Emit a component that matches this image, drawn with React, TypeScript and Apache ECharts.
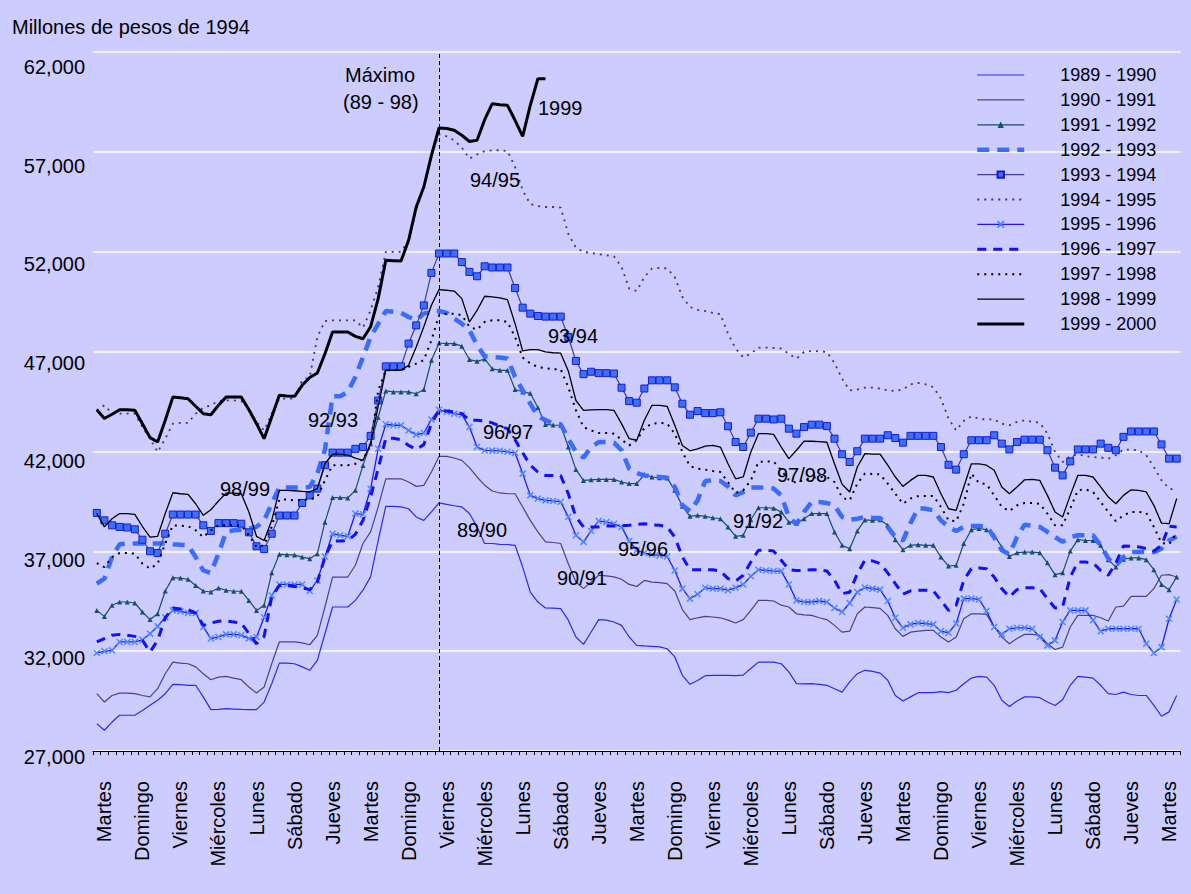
import React, { useEffect, useRef } from "react";
import * as echarts from "echarts";

const FONT = "'Liberation Sans', Arial, Helvetica, sans-serif";

const dayCycle = ["Lunes", "Martes", "Miércoles", "Jueves", "Viernes", "Sábado", "Domingo"];
const days: string[] = Array.from({ length: 143 }, (_, i) => dayCycle[i % 7]);

const yTicks = { min: 27000, max: 62000, step: 5000 };
const yTickValues = [27000, 32000, 37000, 42000, 47000, 52000, 57000, 62000];
// how far below its gridline each tick label sits in the reference (px)
const yLabelDrop = [6.3, 7.2, 9, 10, 11.7, 12.6, 14, 15];

const s8990 = [28370,28040,28450,28790,28790,28790,29030,29290,29540,29870,30340,30320,30290,30290,29710,29070,29080,29120,29100,29080,29070,29070,29450,30370,31400,31400,31370,31210,31040,31540,32870,34210,34210,34210,34540,35050,35720,37540,39250,39250,39220,39130,38720,38550,38970,39420,39350,39280,39220,38890,38220,37390,37390,37350,37340,37300,36210,34960,34460,34160,34150,34130,33550,32710,32340,32960,33580,33550,33460,33290,32710,32290,32260,32240,32210,32120,31710,30790,30340,30530,30770,30790,30790,30790,30770,30800,31130,31450,31450,31450,31370,30960,30370,30360,30370,30340,30290,30120,29950,30460,30870,31040,30990,30900,30540,29780,29500,29710,29920,29920,29920,29970,29920,30040,30370,30650,30740,30700,30290,29540,29230,29500,29710,29710,29670,29450,29280,29570,30290,30740,30700,30650,30290,29870,29830,29950,29830,29780,29780,29280,28740,28960,29780];
const s9091 = [29870,29450,29780,29900,29900,29870,29780,29710,30120,30870,31450,31400,31370,31210,30870,30570,30700,30740,30650,30570,30200,29900,30200,31370,32460,32460,32460,32410,32320,32790,34210,35710,35710,35710,36300,37390,37970,39220,40630,40630,40630,40470,40250,40300,40970,41750,41750,41670,41550,41190,40720,40310,40020,39920,39880,39880,39220,38550,37970,37470,37440,37390,36380,35460,35130,35460,35800,35770,35720,35600,35340,35240,35540,35460,35430,35380,35010,34080,33580,33670,33740,33710,33670,33550,33410,33580,34040,34540,34540,34510,34300,34210,33870,33820,33790,33670,33580,33290,32950,33000,33870,34210,34180,34140,33790,33120,32740,32950,33000,33040,33040,32710,32460,32710,33620,33870,33870,33840,33210,32710,32370,32630,32840,32840,32790,32370,32080,32200,33210,33790,33790,33790,33670,33510,34210,34250,34740,34740,34740,35130,35800,35830,35710];
const s9192 = [34040,33740,34300,34460,34460,34410,33960,33580,33870,35010,35680,35660,35600,35290,35010,34960,35160,35050,35000,35000,34540,34040,34300,35920,36850,36830,36810,36710,36630,36880,38460,39690,39690,39670,40050,41300,42380,43710,45030,44980,44980,44980,44890,45100,46560,47430,47400,47400,47270,46600,46510,46630,46140,46060,46060,45100,44990,44910,44200,43350,43320,43310,42220,41090,40550,40580,40600,40600,40600,40470,40390,40390,40840,40720,40680,40670,40050,39250,38750,38800,38750,38680,38630,38220,37750,37800,38580,39180,39180,39160,38970,38460,38410,38630,38890,38890,38890,37970,37300,37130,38020,38570,38550,38580,38300,37580,37080,37300,37330,37300,37300,36710,36260,36300,37390,38080,38140,38080,37800,37220,36740,36930,36960,36960,36930,36420,35830,35920,37010,37580,37540,37540,37300,36580,36210,36600,36670,36670,36580,36080,35340,35080,35710];
const s9293 = [35380,35630,36710,37350,37390,37390,37390,37390,37390,37390,37350,37330,37300,36710,36040,35920,36880,37970,38050,38080,38140,38220,38550,39380,40190,40190,40190,40190,40220,40890,42090,44760,44760,44980,45730,46720,47730,48390,49030,48990,48940,48730,48570,48900,48990,49030,48940,48650,48400,48070,47320,46760,46730,46700,46650,45730,45060,44390,43760,43570,43390,43360,42640,41970,41690,42220,42470,42470,42440,42060,41140,40920,40800,40750,40720,40680,40220,39300,39010,39550,40520,40550,40520,40250,39800,39970,40190,40190,40190,40140,39800,38720,38350,38970,39470,39470,39420,39300,38720,38580,38630,38720,38680,38670,38220,37710,37540,38410,39160,39130,39050,38550,38220,38020,38220,38260,38260,38250,37710,37050,36850,37710,38330,38280,38220,37970,37710,37470,37710,37800,37800,37800,37300,36640,36300,36710,36960,36960,36960,36960,37130,37540,37740];
const s9394 = [38920,38550,38300,38220,38190,38100,37580,37000,36910,37880,38840,38840,38840,38840,38300,38020,38410,38410,38410,38380,37950,37250,37110,37880,38790,38790,38790,39420,39800,40140,41310,41940,41940,41940,42130,42220,42780,44550,46260,46260,46260,47400,48310,49310,50940,51910,51910,51910,51480,50990,50770,51270,51210,51210,51210,50180,49200,48900,48780,48750,48750,48750,47730,46530,45870,45990,45920,45920,45900,45190,44520,44440,45150,45560,45560,45560,45210,44390,43840,44020,43920,43920,43960,43260,42470,42220,42940,43640,43640,43600,43640,43140,42890,43220,43340,43340,43270,42640,41860,41470,42010,42640,42640,42640,42810,42670,42440,42780,42780,42780,42780,42220,41330,41090,41860,42560,42560,42560,42810,42390,42100,42470,42590,42590,42590,42060,41190,40800,41500,42100,42100,42100,42390,42180,42060,42730,43000,43000,43000,43000,42350,41640,41640];
const s9495 = [44060,44310,43890,43890,43890,43890,43220,42640,41970,42640,43390,43430,43430,43890,44190,44310,44520,44560,44560,44520,44140,43480,43050,43890,44640,44640,44640,45560,45730,47730,48530,48560,48560,48560,48560,48200,49060,50240,51990,51990,51990,52570,54070,55240,56820,57880,57780,57570,57210,56660,56870,57040,57080,57080,57040,56240,55080,54380,54280,54240,54240,54210,52900,52200,51990,51940,51870,51820,51770,51240,50150,50030,50730,51160,51190,51160,50730,49740,49230,49090,49030,48940,48870,47900,47150,46720,46890,47200,47200,47180,47150,46890,46650,46980,47030,47010,46980,46430,45640,45060,45100,45190,45190,45150,45060,45030,45100,45360,45430,45360,45220,44640,43640,43050,43530,43760,43640,43600,43600,43390,43310,43480,43560,43480,43440,42890,41980,41470,41760,41860,41760,41720,41690,41640,41810,42090,42090,42060,41810,41220,40550,40140,40050];
const s9596 = [31910,31990,32040,32460,32460,32460,32570,32870,33240,33700,34040,33990,33910,33910,33210,32630,32710,32840,32840,32800,32630,32710,33700,34790,35340,35340,35340,35340,35010,35540,36740,37880,37800,37750,38890,38850,40130,42130,43360,43310,43310,43050,42840,42920,43600,44090,43970,43890,43840,43220,42220,42050,42040,42030,41980,41920,40890,39800,39640,39550,39520,39470,38720,37800,37470,38020,38520,38460,38380,38220,37510,37050,36910,36840,36790,36740,36040,35130,34630,34850,35170,35130,35130,35050,35170,35340,35750,36080,36040,36010,36010,35340,34540,34460,34460,34510,34460,34160,33960,34410,34960,35190,35130,35080,34510,33670,33170,33340,33410,33380,33340,33000,32920,33380,34630,34630,34590,34010,33210,32840,33120,33170,33170,33120,32710,32290,32540,33460,34040,34040,34040,33550,33000,33120,33120,33120,33120,33120,32370,31910,32200,33620,34590];
const s9697 = [32460,32630,32800,32840,32800,32740,32540,31960,32540,33670,34160,34110,34080,33910,33290,33410,33500,33510,33460,33410,32870,32370,32740,34710,35290,35290,35240,35170,35080,35460,36710,37510,37510,37540,37850,38550,39720,41140,42660,42660,42580,42300,42100,42340,43390,44060,44030,43980,43890,43560,43560,43530,43430,43260,43140,42590,41930,41310,40970,40800,40800,40790,39880,38720,38220,38220,38220,38260,38260,38280,38300,38350,38380,38330,38300,38220,37710,36710,36080,36080,36080,36080,36010,35630,35510,35800,36460,37050,37050,37010,36550,36080,36040,36040,36080,36080,36010,35550,34880,34950,35880,36550,36520,36380,35920,35380,34850,35020,35050,35050,35020,34540,34040,34300,35550,36130,36160,36130,35710,35130,34710,35080,35170,35170,35130,34630,34160,34210,35710,36460,36460,36410,36040,35800,36410,37270,37250,37220,37130,37010,37300,38260,38220];
const s9798 = [36410,36210,36710,36910,36910,36880,36380,36130,36380,37390,38300,38280,38260,38050,37710,38050,38300,38300,38300,38280,37800,37220,37300,38220,39590,39590,39550,39550,39590,39720,40550,41310,41310,41310,41380,41590,42300,45050,46060,46060,46090,46230,46400,46570,47560,48820,48900,48900,48820,48240,48100,48480,48570,48570,48480,47730,46700,46400,46230,46160,46120,46110,45220,44060,43220,43050,42920,42920,42890,42590,42300,42560,43170,43390,43430,43390,42890,41970,41260,41140,41090,41020,40970,40470,39920,40050,40550,41470,41500,41490,41060,40580,40420,40580,40680,40720,40720,40470,39690,39550,40390,40890,40870,40850,40390,39880,39380,39640,39760,39770,39770,39220,38550,38500,39380,40890,40420,40360,39800,39220,39010,39300,39420,39420,39380,38890,38300,38300,39130,40050,40100,39970,39470,38970,38510,38800,38970,38970,38920,38220,37420,37350,37920];
const s9899 = [38890,38220,38630,38890,38890,38850,38240,37710,37750,38890,39930,39880,39850,39380,38800,39080,39520,39910,39910,39880,38970,37750,37540,38550,40050,40050,40030,40000,39980,40140,41390,41860,41860,41810,41670,41550,42380,44260,46060,46060,46060,46310,47230,48240,49320,50100,50070,50030,49650,48480,49060,49770,49740,49690,49600,48400,47030,47100,47100,46980,46940,46920,46030,44550,44060,44080,44090,44090,44060,43390,42640,42560,43560,44310,44310,44260,43310,42300,42030,42130,42270,42300,42220,41380,40630,40720,41970,42890,42890,42850,42220,41640,42060,42510,42510,42490,42460,41380,40360,39970,41220,41890,41870,41860,41310,40720,40250,40550,40800,40800,40720,39880,39130,39050,40220,41380,41380,41310,41060,40220,39880,40220,40580,40600,40550,39800,38970,38720,39800,40800,40800,40720,40220,39720,39380,39800,40080,40050,39970,39300,38410,38380,39640];
const s9900 = [44090,43650,43860,44090,44090,44060,43390,42690,42470,43560,44720,44690,44640,44260,43890,43840,44310,44720,44720,44720,44090,43390,42640,43720,44810,44780,44760,45310,45700,45930,46890,47980,47980,47980,47760,47640,48240,49650,51570,51550,51530,52570,54240,55240,56820,58200,58170,58080,57830,57520,57580,58610,59410,59360,59330,58580,57780,59330,60660,60660];

const seriesNames = ["1989 - 1990","1990 - 1991","1991 - 1992","1992 - 1993","1993 - 1994","1994 - 1995","1995 - 1996","1996 - 1997","1997 - 1998","1998 - 1999","1999 - 2000"];
const seriesData = [s8990, s9091, s9192, s9293, s9394, s9495, s9596, s9697, s9798, s9899, s9900];

const peakIndex = 45;

const notes: [string, number, number][] = [
  ["Máximo", 345, 75],
  ["(89 - 98)", 343, 102],
  ["1999", 538, 108],
  ["94/95", 470, 180],
  ["93/94", 548, 336],
  ["92/93", 308, 420],
  ["96/97", 483, 432],
  ["98/99", 220, 489],
  ["97/98", 777, 475],
  ["89/90", 457, 530],
  ["91/92", 733, 521],
  ["95/96", 618, 549],
  ["90/91", 557, 578],
];

const CROSS = "path://M0,0L10,10M10,0L0,10";

const styles: any[] = [
  { line: { color: "#2a2af0", width: 1.2 } },
  { line: { color: "#44448f", width: 1.2 } },
  { line: { color: "#174f66", width: 1.2 }, symbol: "triangle", size: 5, item: { color: "#174f66" } },
  { line: { color: "#3a6cff", width: 4.5, type: [12, 8] } },
  { line: { color: "#3d3d99", width: 1.2 }, symbol: "rect", size: 7, item: { color: "#3a70ff", borderColor: "#1a1acc", borderWidth: 1 } },
  { line: { color: "#333399", width: 1.8, type: [2, 5] } },
  { line: { color: "#1a1aff", width: 1.3 }, symbol: CROSS, size: 6, item: { color: "#4d88ff", borderColor: "#4d88ff", borderWidth: 1.5 } },
  { line: { color: "#1010ff", width: 3, type: [9, 7] } },
  { line: { color: "#000000", width: 2, type: [2, 5] } },
  { line: { color: "#000000", width: 1.3 } },
  { line: { color: "#000000", width: 3 } },
];

const yRich: Record<string, any> = {};
yTickValues.forEach((v, k) => {
  yRich["y" + v] = { fontSize: 20, color: "#000", fontFamily: FONT, padding: [2 * yLabelDrop[k], 0, 0, 0] };
});

export default function App() {
  const ref = useRef<HTMLDivElement>(null);
  useEffect(() => {
    if (!ref.current) return;
    const chart = echarts.init(ref.current, undefined, { renderer: "svg" });
    const series = seriesNames.map((name, k) => {
      const st = styles[k];
      const s: any = {
        name,
        type: "line",
        data: seriesData[k],
        lineStyle: { ...st.line },
        itemStyle: st.item ? { ...st.item } : { color: st.line.color },
        symbol: st.symbol || "none",
        symbolSize: st.size || 0,
        showSymbol: !!st.symbol,
        showAllSymbol: true,
        emphasis: { disabled: true },
        silent: true,
        z: 2 + k,
      };
      if (k === seriesNames.length - 1) {
        s.markLine = {
          symbol: "none",
          silent: true,
          label: { show: false },
          lineStyle: { color: "#000", type: [4, 3], width: 1 },
          data: [{ xAxis: peakIndex }],
        };
      }
      return s;
    });
    chart.setOption({
      animation: false,
      backgroundColor: "#ccccff",
      textStyle: { fontFamily: FONT },
      title: {
        text: "Millones de pesos de 1994",
        left: 12,
        top: 17,
        padding: 0,
        textStyle: { fontSize: 20, fontWeight: "normal", color: "#000", fontFamily: FONT },
      },
      legend: {
        orient: "vertical",
        left: 975,
        top: 63,
        padding: 0,
        itemWidth: 47,
        itemHeight: 8,
        itemGap: 0.9,
        selectedMode: false,
        lineStyle: { width: "inherit" },
        textStyle: { fontSize: 18, color: "#000", fontFamily: FONT, padding: [6, 0, 0, 31], lineHeight: 18 },
        data: seriesNames.map((name, k) => styles[k].symbol ? { name } : { name, itemStyle: { opacity: 0 } }),
      },
      grid: { left: 93, top: 52, width: 1087.5, height: 699, containLabel: false, outerBoundsMode: "none" },
      xAxis: {
        type: "category",
        data: days,
        boundaryGap: true,
        axisLine: { show: true, lineStyle: { color: "#000", width: 1 } },
        axisTick: { show: true, interval: 0, length: 4, lineStyle: { color: "#000", width: 1 } },
        axisLabel: {
          interval: (i: number) => i % 5 === 1,
          rotate: 90,
          margin: 30,
          fontSize: 20,
          color: "#000",
          fontFamily: FONT,
        },
        splitLine: { show: false },
      },
      yAxis: {
        type: "value",
        min: yTicks.min,
        max: yTicks.max,
        interval: yTicks.step,
        axisLine: { show: false },
        axisTick: { show: false },
        axisLabel: {
          fontSize: 20,
          color: "#000",
          fontFamily: FONT,
          margin: 8,
          formatter: (v: number) => `{y${v}|${v.toLocaleString("en-US")}}`,
          rich: yRich,
        },
        splitLine: { show: true, lineStyle: { color: "#ffffff", width: 1.5 } },
      },
      graphic: notes.map(([text, x, y]) => ({
        type: "text",
        x,
        y,
        silent: true,
        z: 100,
        style: { text, fontSize: 20, fontFamily: FONT, fill: "#000", align: "left", verticalAlign: "middle" },
      })),
      series,
    });
    return () => chart.dispose();
  }, []);
  return <div ref={ref} style={{ position: "fixed", left: 0, top: 0, width: 1191, height: 894 }} />;
}
